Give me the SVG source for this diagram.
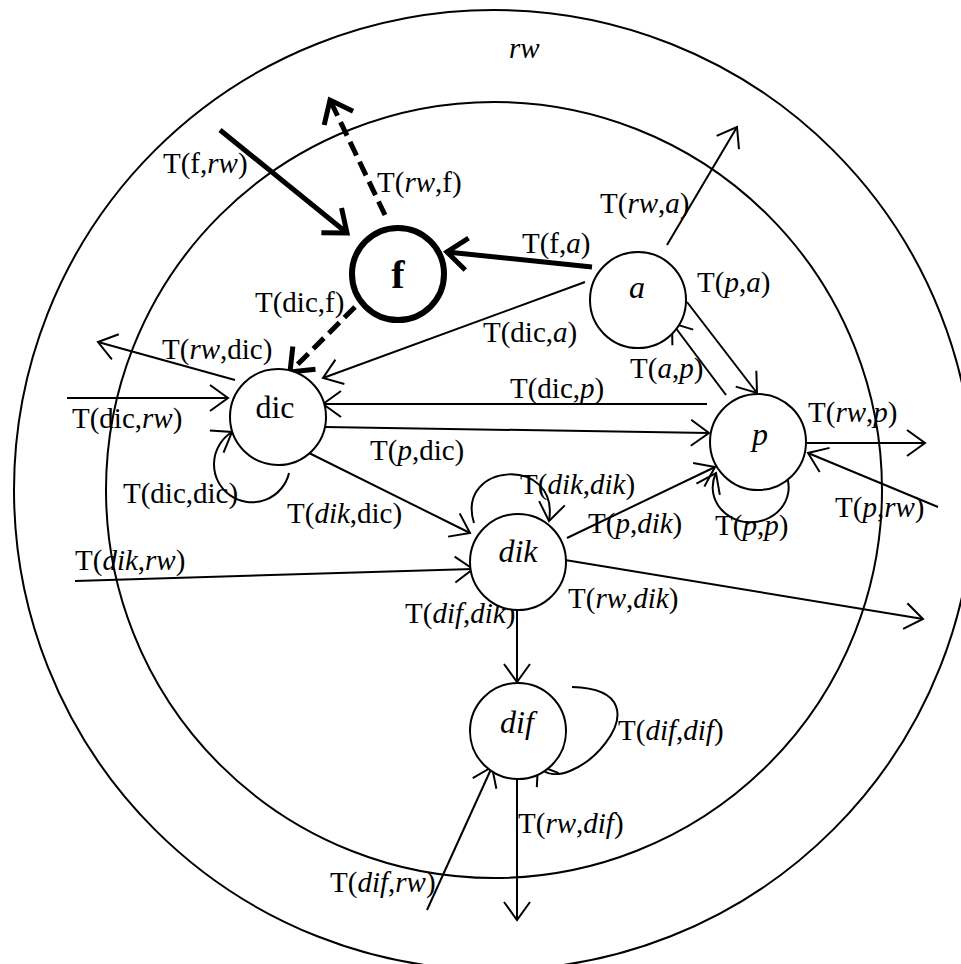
<svg xmlns="http://www.w3.org/2000/svg" width="961" height="964" viewBox="0 0 961 964">
<style>
.ring{fill:none;stroke:#000;stroke-width:2}
.node{fill:#fff;stroke:#000;stroke-width:2}
.nodeb{fill:#fff;stroke:#000;stroke-width:6}
.e{fill:none;stroke:#000;stroke-width:2;marker-end:url(#ah)}
.eb{fill:none;stroke:#000;stroke-width:5;marker-end:url(#ahb)}
.ed{fill:none;stroke:#000;stroke-width:5;stroke-dasharray:15 7;marker-end:url(#ahb)}
text{font-family:"Liberation Serif","Times New Roman",serif;fill:#000}
.lbl{font-size:29px}
.nl{font-size:32px;text-anchor:middle;font-style:italic}
.i{font-style:italic}
</style>
<defs>
<marker id="ah" markerUnits="userSpaceOnUse" viewBox="-24 -16 26 32" refX="0" refY="0" markerWidth="26" markerHeight="32" orient="auto" overflow="visible">
<path d="M -18 -13 L 0 0 L -18 13" fill="none" stroke="#000" stroke-width="2"/>
</marker>
<marker id="ahb" markerUnits="userSpaceOnUse" viewBox="-26 -20 30 40" refX="0" refY="0" markerWidth="30" markerHeight="40" orient="auto" overflow="visible">
<path d="M -20 -16 L 0 0 L -20 16" fill="none" stroke="#000" stroke-width="5"/>
</marker>
</defs>
<rect width="961" height="964" fill="#fff"/>
<g id="regions">
<circle class="ring" cx="494" cy="490" r="480"/>
<circle class="ring" cx="494" cy="490" r="388"/>
<text class="lbl i" x="509" y="58">rw</text>
</g>
<g id="connectors">
<path class="eb" d="M 220 130 L 347 233"/>
<path class="ed" d="M 385 215 L 330 100"/>
<path class="eb" d="M 592 267 L 447 252"/>
<path class="ed" d="M 355 307 L 290 372"/>
<path class="e" d="M 585 282 L 323 378"/>
<path class="e" d="M 667 245 L 737 127"/>
<path class="e" d="M 687 302 L 757 393"/>
<path class="e" d="M 726 395 L 672 323"/>
<path class="e" d="M 707 404 L 323 404"/>
<path class="e" d="M 325 427 L 709 433"/>
<path class="e" d="M 235 380 L 98 342"/>
<path class="e" d="M 67 398 L 228 398"/>
<path class="e" d="M 289 473 A 38 38 0 1 1 232 432"/>
<path class="e" d="M 303 450 L 470 533"/>
<path class="e" d="M 75 581 L 473 569"/>
<path class="e" d="M 474 523 C 455 462, 560 455, 549 521"/>
<path class="e" d="M 567 538 L 715 467"/>
<path class="e" d="M 787 477 A 38 35 0 1 1 716 473"/>
<path class="e" d="M 807 443 L 925 443"/>
<path class="e" d="M 938 507 L 808 453"/>
<path class="e" d="M 565 560 L 923 619"/>
<path class="e" d="M 517 610 L 517 682"/>
<path class="e" d="M 572 687 C 680 690, 565 807, 538 765"/>
<path class="e" d="M 517 779 L 517 920"/>
<path class="e" d="M 427 910 L 492 767"/>
</g>
<g id="edge-labels" class="lbl">
<text class="lbl" x="163" y="173">T(f,<tspan class="i">rw</tspan>)</text>
<text class="lbl" x="377" y="192">T(<tspan class="i">rw</tspan>,f)</text>
<text class="lbl" x="522" y="253">T(f,<tspan class="i">a</tspan>)</text>
<text class="lbl" x="255" y="312">T(dic,f)</text>
<text class="lbl" x="600" y="213">T(<tspan class="i">rw</tspan>,<tspan class="i">a</tspan>)</text>
<text class="lbl" x="697" y="292">T(<tspan class="i">p</tspan>,<tspan class="i">a</tspan>)</text>
<text class="lbl" x="483" y="342">T(dic,<tspan class="i">a</tspan>)</text>
<text class="lbl" x="162" y="359">T(<tspan class="i">rw</tspan>,dic)</text>
<text class="lbl" x="630" y="378">T(<tspan class="i">a</tspan>,<tspan class="i">p</tspan>)</text>
<text class="lbl" x="510" y="398">T(dic,<tspan class="i">p</tspan>)</text>
<text class="lbl" x="808" y="422">T(<tspan class="i">rw</tspan>,<tspan class="i">p</tspan>)</text>
<text class="lbl" x="72" y="428">T(dic,<tspan class="i">rw</tspan>)</text>
<text class="lbl" x="370" y="460">T(<tspan class="i">p</tspan>,dic)</text>
<text class="lbl" x="520" y="494">T(<tspan class="i">dik</tspan>,<tspan class="i">dik</tspan>)</text>
<text class="lbl" x="123" y="503">T(dic,dic)</text>
<text class="lbl" x="287" y="523">T(<tspan class="i">dik</tspan>,dic)</text>
<text class="lbl" x="588" y="533">T(<tspan class="i">p</tspan>,<tspan class="i">dik</tspan>)</text>
<text class="lbl" x="715" y="535">T(<tspan class="i">p</tspan>,<tspan class="i">p</tspan>)</text>
<text class="lbl" x="835" y="517">T(<tspan class="i">p</tspan>,<tspan class="i">rw</tspan>)</text>
<text class="lbl" x="75" y="570">T(<tspan class="i">dik</tspan>,<tspan class="i">rw</tspan>)</text>
<text class="lbl" x="568" y="608">T(<tspan class="i">rw</tspan>,<tspan class="i">dik</tspan>)</text>
<text class="lbl" x="405" y="623">T(<tspan class="i">dif</tspan>,<tspan class="i">dik</tspan>)</text>
<text class="lbl" x="618" y="740">T(<tspan class="i">dif</tspan>,<tspan class="i">dif</tspan>)</text>
<text class="lbl" x="518" y="833">T(<tspan class="i">rw</tspan>,<tspan class="i">dif</tspan>)</text>
<text class="lbl" x="330" y="892">T(<tspan class="i">dif</tspan>,<tspan class="i">rw</tspan>)</text>
</g>
<g id="node-f">
<circle class="nodeb" cx="398" cy="274" r="46"/>
<text x="398" y="288" font-size="40" font-weight="bold" text-anchor="middle">f</text>
</g>
<g id="node-a">
<circle class="node" cx="638" cy="300" r="48"/>
<text class="nl" x="637" y="298">a</text>
</g>
<g id="node-dic">
<circle class="node" cx="278" cy="417" r="48"/>
<text class="nl" x="275" y="418" font-style="normal" style="font-style:normal">dic</text>
</g>
<g id="node-p">
<circle class="node" cx="758" cy="442" r="48"/>
<text class="nl" x="760" y="445">p</text>
</g>
<g id="node-dik">
<circle class="node" cx="518" cy="562" r="48"/>
<text class="nl" x="518" y="562">dik</text>
</g>
<g id="node-dif">
<circle class="node" cx="518" cy="731" r="48"/>
<text class="nl" x="517" y="733">dif</text>
</g>
</svg>
